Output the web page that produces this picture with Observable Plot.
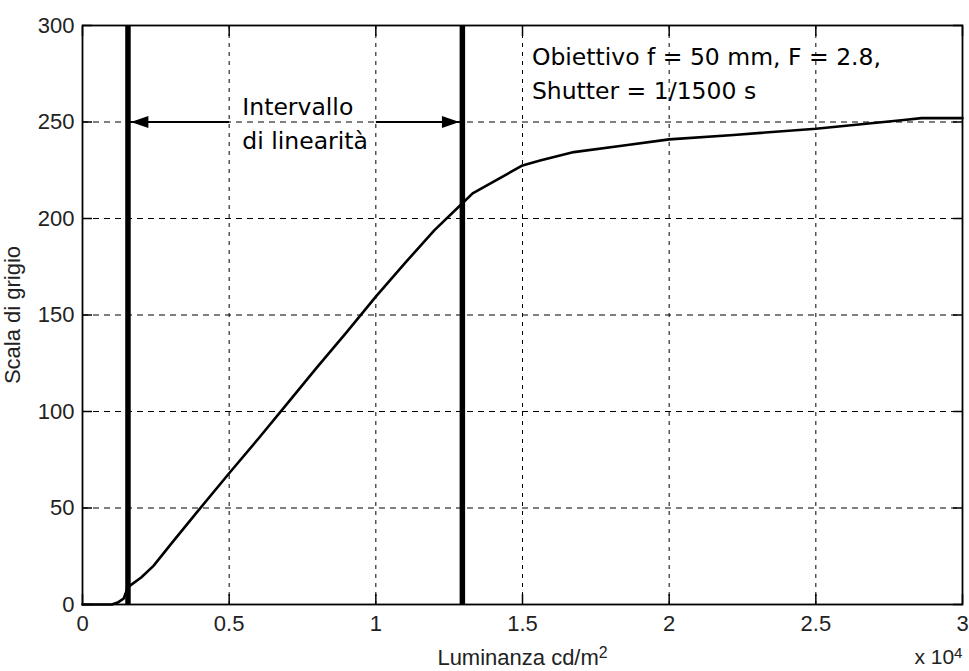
<!DOCTYPE html>
<html>
<head>
<meta charset="utf-8">
<script src="https://cdn.jsdelivr.net/npm/d3@7"></script>
<script src="https://cdn.jsdelivr.net/npm/@observablehq/plot@0.6"></script>
<style>
  html, body { margin: 0; padding: 0; background: #fff; }
  #chart svg { display: block; }
</style>
</head>
<body>
<div id="chart"></div>
<script>
// Camera response: luminance (cd/m²) against grey level
const luminance = [0, 500, 1000, 1200, 1400, 1550, 2000, 2420, 3000, 3910, 5000, 6000, 7000, 8000, 9000,
  10000, 11000, 12000, 12960, 13300, 15000, 15600, 16750, 18450, 20000, 22200, 25000, 28000, 28600, 30000];
const grey = [0, 0, 0, 1, 3, 9, 14, 20, 31, 48, 68, 86, 104.5, 123, 141,
  159.5, 177, 194, 208, 213, 227.5, 230, 234.4, 237.8, 241, 243.3, 246.5, 251, 252, 252];

// Axis ticks
const xTicks = [0, 5000, 10000, 15000, 20000, 25000, 30000];
const yTicks = [0, 50, 100, 150, 200, 250, 300];

// Limits of the linear range and the double arrow between them
const linearLimits = [1550, 12950];
const arrowLevel = 250;
const arrowLeft = {from: 5000, to: 1550};
const arrowRight = {from: 10000, to: 12950};

// Annotations
const rangeLabel = {x: 5450, y: 266, text: "Intervallo\ndi linearità"};
const lensLabel = {x: 15320, y: 292, text: "Obiettivo f = 50 mm, F = 2.8,\nShutter = 1/1500 s"};
const xLabel = "Luminanza cd/m²";
const yLabel = "Scala di grigio";
const xScaleNote = "x 10⁴";

const points = luminance.map((l, i) => ({l, g: grey[i]}));

// Filled triangular arrowheads with the tip at the anchor point
const headRight = {
  draw(context, size) {
    const r = Math.sqrt(size / Math.PI);
    context.moveTo(0, 0);
    context.lineTo(-2.9 * r, -r);
    context.lineTo(-2.9 * r, r);
    context.closePath();
  }
};
const headLeft = {
  draw(context, size) {
    const r = Math.sqrt(size / Math.PI);
    context.moveTo(0, 0);
    context.lineTo(2.9 * r, -r);
    context.lineTo(2.9 * r, r);
    context.closePath();
  }
};

const tickFont = "'Liberation Sans', Arial, sans-serif";
const noteFont = "'DejaVu Sans', Verdana, sans-serif";

const chart = Plot.plot({
  width: 969,
  height: 671,
  marginLeft: 82,
  marginRight: 7,
  marginTop: 25,
  marginBottom: 67,
  style: {fontFamily: tickFont, fontSize: "22px", color: "#222", background: "#fff"},
  x: {domain: [0, 30000], label: null},
  y: {domain: [0, 300], label: null},
  marks: [
    // dotted grid
    Plot.ruleX(xTicks.slice(1, -1), {stroke: "#000", strokeWidth: 1, strokeDasharray: "4,5"}),
    Plot.ruleY(yTicks.slice(1, -1), {stroke: "#000", strokeWidth: 1, strokeDasharray: "6,5"}),
    // axes with inward ticks
    Plot.axisX(xTicks, {anchor: "bottom", tickSize: -10, tickPadding: 21, tickFormat: d => d / 1e4, stroke: "#000", strokeWidth: 1.5, label: null, fill: "#222"}),
    Plot.axisY(yTicks, {anchor: "left", tickSize: -10, tickPadding: 18, stroke: "#000", strokeWidth: 1.5, label: null, fill: "#222"}),
    Plot.axisX(xTicks, {anchor: "top", tickSize: -10, tickFormat: () => "", stroke: "#000", strokeWidth: 1.5, label: null}),
    Plot.axisY(yTicks, {anchor: "right", tickSize: -10, tickFormat: () => "", stroke: "#000", strokeWidth: 1.5, label: null}),
    Plot.frame({stroke: "#000", strokeWidth: 1.8}),
    // response curve
    Plot.line(points, {x: "l", y: "g", stroke: "#000", strokeWidth: 2.6, strokeLinejoin: "round"}),
    // limits of the linear range
    Plot.ruleX(linearLimits, {y1: 0, y2: 300, stroke: "#000", strokeWidth: 5.5}),
    // double arrow
    Plot.link([arrowLeft, arrowRight], {x1: "from", x2: "to", y1: () => arrowLevel, y2: () => arrowLevel, stroke: "#000", strokeWidth: 2.2}),
    Plot.dot([arrowLeft], {x: "to", y: () => arrowLevel, dx: 3, symbol: headLeft, r: 6, fill: "#000", stroke: null}),
    Plot.dot([arrowRight], {x: "to", y: () => arrowLevel, dx: -3, symbol: headRight, r: 6, fill: "#000", stroke: null}),
    // annotations
    Plot.text([rangeLabel, lensLabel], {x: "x", y: "y", text: "text", textAnchor: "start", lineAnchor: "top", lineHeight: 1.45,
      fontFamily: noteFont, fontSize: 23.5, fill: "#000"}),
    // axis titles
    Plot.text([xLabel], {frameAnchor: "bottom", dy: 45, lineAnchor: "top", fontSize: 22, fill: "#222"}),
    Plot.text([yLabel], {frameAnchor: "left", dx: -70, rotate: -90, textAnchor: "middle", lineAnchor: "middle", fontSize: 22, fill: "#222"}),
    Plot.text([xScaleNote], {frameAnchor: "bottom-right", dx: 0, dy: 45, textAnchor: "end", lineAnchor: "top", fontSize: 21, fill: "#222"})
  ]
});

// Set trailing exponents as raised, smaller digits
const superscripts = {"²": "2", "⁴": "4"};
d3.select(chart).selectAll("text").each(function () {
  const t = d3.select(this);
  if (!t.selectAll("tspan").empty()) return;
  const m = t.text().match(/^(.*?)([²⁴])$/);
  if (!m) return;
  t.text(m[1]);
  t.append("tspan").attr("dy", "-0.42em").attr("font-size", "0.72em").text(superscripts[m[2]]);
});

document.getElementById("chart").appendChild(chart);
</script>
</body>
</html>
